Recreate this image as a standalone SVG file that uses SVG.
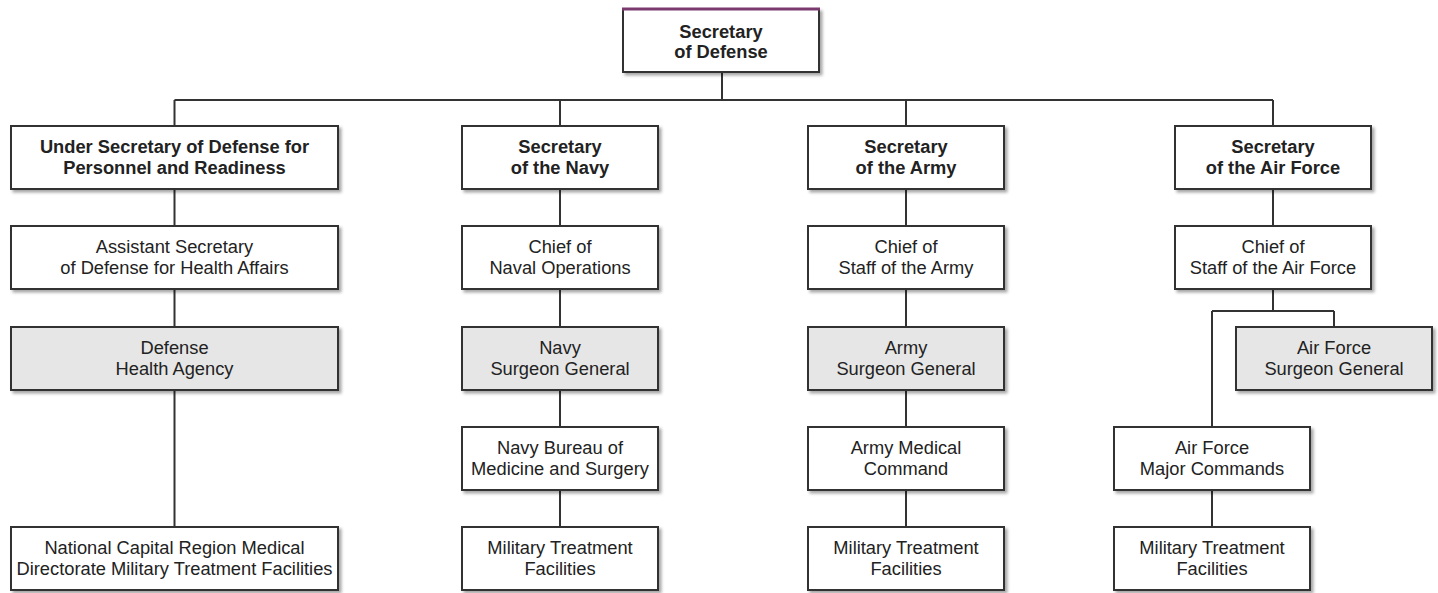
<svg xmlns="http://www.w3.org/2000/svg" width="1438" height="593" viewBox="0 0 1438 593">
<defs>
<filter id="sh" x="-5%" y="-10%" width="115%" height="130%">
<feDropShadow dx="2.5" dy="2.5" stdDeviation="1.6" flood-color="#000" flood-opacity="0.35"/>
</filter>
<style>
.box{fill:#fff;stroke:#333;stroke-width:2;filter:url(#sh)}
.gray{fill:#e6e6e6}
.t{font-family:"Liberation Sans",Arial,sans-serif;font-size:18.3px;fill:#222;text-anchor:middle}
.b{font-weight:bold}
.c{fill:none;stroke:#333;stroke-width:2}
</style>
</defs>
<rect width="1438" height="593" fill="#fff"/>
<g id="connectors">
<path class="c" d="M722 72V100M174.5 100H1273M174.5 100V126M560 100V126M906 100V126M1273 100V126"/>
<path class="c" d="M174.5 189V226M174.5 289V327M174.5 390V527"/>
<path class="c" d="M560 189V226M560 289V327M560 390V427M560 490V527"/>
<path class="c" d="M906 189V226M906 289V327M906 390V427M906 490V527"/>
<path class="c" d="M1273 189V226M1273 289V311M1212 311H1334M1334 311V327M1212 311V427M1212 490V527"/>
</g>
<g id="secdef">
<rect class="box" x="623" y="9" width="196" height="63"/>
<line x1="622" y1="9" x2="820" y2="9" stroke="#7a3a6e" stroke-width="3"/>
<text class="t b" x="721" y="38">Secretary</text>
<text class="t b" x="721" y="58">of Defense</text>
</g>
<g id="usd">
<rect class="box" x="11" y="126" width="327" height="63"/>
<text class="t b" x="174.5" y="153">Under Secretary of Defense for</text>
<text class="t b" x="174.5" y="174">Personnel and Readiness</text>
</g>
<g id="secnav">
<rect class="box" x="462" y="126" width="196" height="63"/>
<text class="t b" x="560" y="153">Secretary</text>
<text class="t b" x="560" y="174">of the Navy</text>
</g>
<g id="secarmy">
<rect class="box" x="808" y="126" width="196" height="63"/>
<text class="t b" x="906" y="153">Secretary</text>
<text class="t b" x="906" y="174">of the Army</text>
</g>
<g id="secaf">
<rect class="box" x="1175" y="126" width="196" height="63"/>
<text class="t b" x="1273" y="153">Secretary</text>
<text class="t b" x="1273" y="174">of the Air Force</text>
</g>
<g id="asdha">
<rect class="box" x="11" y="226" width="327" height="63"/>
<text class="t" x="174.5" y="253">Assistant Secretary</text>
<text class="t" x="174.5" y="274">of Defense for Health Affairs</text>
</g>
<g id="cno">
<rect class="box" x="462" y="226" width="196" height="63"/>
<text class="t" x="560" y="253">Chief of</text>
<text class="t" x="560" y="274">Naval Operations</text>
</g>
<g id="csa">
<rect class="box" x="808" y="226" width="196" height="63"/>
<text class="t" x="906" y="253">Chief of</text>
<text class="t" x="906" y="274">Staff of the Army</text>
</g>
<g id="csaf">
<rect class="box" x="1175" y="226" width="196" height="63"/>
<text class="t" x="1273" y="253">Chief of</text>
<text class="t" x="1273" y="274">Staff of the Air Force</text>
</g>
<g id="dha">
<rect class="box gray" x="11" y="327" width="327" height="63"/>
<text class="t" x="174.5" y="354">Defense</text>
<text class="t" x="174.5" y="375">Health Agency</text>
</g>
<g id="navysg">
<rect class="box gray" x="462" y="327" width="196" height="63"/>
<text class="t" x="560" y="354">Navy</text>
<text class="t" x="560" y="375">Surgeon General</text>
</g>
<g id="armysg">
<rect class="box gray" x="808" y="327" width="196" height="63"/>
<text class="t" x="906" y="354">Army</text>
<text class="t" x="906" y="375">Surgeon General</text>
</g>
<g id="afsg">
<rect class="box gray" x="1236" y="327" width="196" height="63"/>
<text class="t" x="1334" y="354">Air Force</text>
<text class="t" x="1334" y="375">Surgeon General</text>
</g>
<g id="bumed">
<rect class="box" x="462" y="427" width="196" height="63"/>
<text class="t" x="560" y="454">Navy Bureau of</text>
<text class="t" x="560" y="475">Medicine and Surgery</text>
</g>
<g id="medcom">
<rect class="box" x="808" y="427" width="196" height="63"/>
<text class="t" x="906" y="454">Army Medical</text>
<text class="t" x="906" y="475">Command</text>
</g>
<g id="afmc">
<rect class="box" x="1114" y="427" width="196" height="63"/>
<text class="t" x="1212" y="454">Air Force</text>
<text class="t" x="1212" y="475">Major Commands</text>
</g>
<g id="ncr">
<rect class="box" x="11" y="527" width="327" height="63"/>
<text class="t" x="174.5" y="554">National Capital Region Medical</text>
<text class="t" x="174.5" y="575">Directorate Military Treatment Facilities</text>
</g>
<g id="mtf-navy">
<rect class="box" x="462" y="527" width="196" height="63"/>
<text class="t" x="560" y="554">Military Treatment</text>
<text class="t" x="560" y="575">Facilities</text>
</g>
<g id="mtf-army">
<rect class="box" x="808" y="527" width="196" height="63"/>
<text class="t" x="906" y="554">Military Treatment</text>
<text class="t" x="906" y="575">Facilities</text>
</g>
<g id="mtf-af">
<rect class="box" x="1114" y="527" width="196" height="63"/>
<text class="t" x="1212" y="554">Military Treatment</text>
<text class="t" x="1212" y="575">Facilities</text>
</g>
</svg>
